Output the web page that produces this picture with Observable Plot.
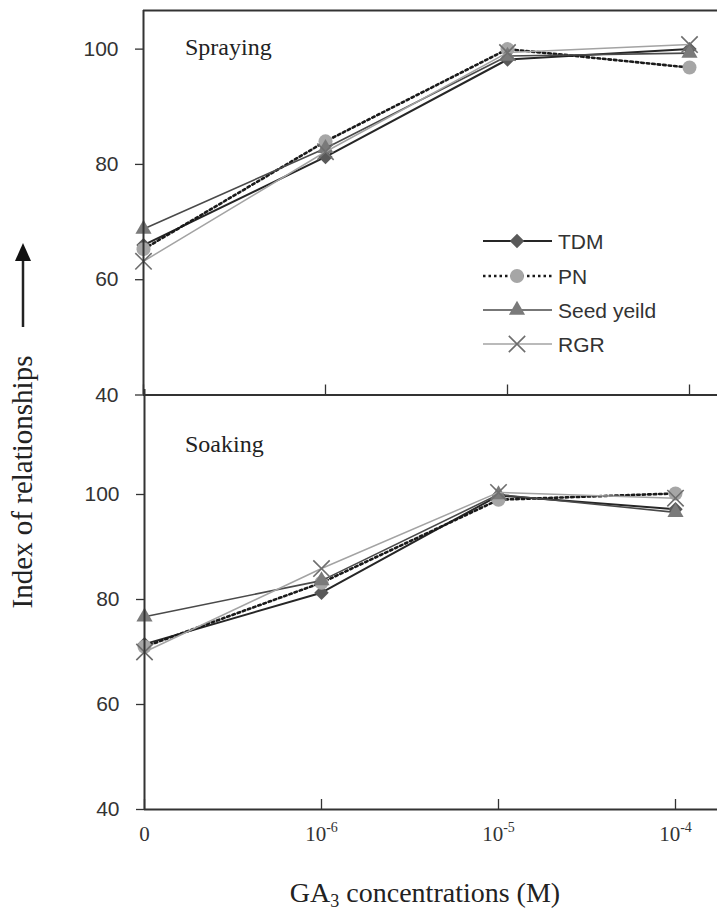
<!DOCTYPE html>
<html><head><meta charset="utf-8">
<script src="https://cdn.jsdelivr.net/npm/d3@7"></script>
<script src="https://cdn.jsdelivr.net/npm/@observablehq/plot@0.6"></script>
<style>
body{margin:0;background:#fff;}
#wrap{position:relative;width:717px;height:910px;overflow:hidden;background:#fff;}
#wrap > svg{position:absolute;left:0;}
</style></head><body><div id="wrap"></div>
<script>
// ---- data ----
const concentrations = ["0", "10^-6", "10^-5", "10^-4"];
const seriesNames = ["TDM", "PN", "Seed yeild", "RGR"];
const panelNames = ["Spraying", "Soaking"];
const yTicks = [40, 60, 80, 100];

const sprayTDM  = [66.0, 81.3, 98.2, 100.0];
const sprayPN   = [65.3, 84.0, 100.0, 96.8];
const spraySeed = [68.8, 82.8, 98.8, 99.3];
const sprayRGR  = [63.2, 82.2, 99.4, 100.8];

const soakTDM  = [71.5, 81.3, 99.8, 97.2];
const soakPN   = [71.0, 83.2, 99.0, 100.2];
const soakSeed = [76.7, 83.6, 100.0, 96.6];
const soakRGR  = [70.0, 85.9, 100.4, 99.3];

// ---- styles ----
const styles = {
  "TDM":        {stroke: "#262626", width: 2,   dash: null,    symbol: "diamond2", r: 6.5, fill: "#595959", mstroke: "none"},
  "PN":         {stroke: "#1a1a1a", width: 2.6, dash: "2.5,3", symbol: "circle",   r: 7,   fill: "#a6a6a6", mstroke: "none"},
  "Seed yeild": {stroke: "#4a4a4a", width: 1.6, dash: null,    symbol: "triangle", r: 6,   fill: "#7a7a7a", mstroke: "none"},
  "RGR":        {stroke: "#a3a3a3", width: 1.5, dash: null,    symbol: "times",    r: 7.5, fill: "none",    mstroke: "#6e6e6e"}
};

function table(arrs) {
  const rows = [];
  seriesNames.forEach((s, k) => arrs[k].forEach((v, i) => rows.push({series: s, i, value: v})));
  return rows;
}
const sprayRows = table([sprayTDM, sprayPN, spraySeed, sprayRGR]);
const soakRows  = table([soakTDM, soakPN, soakSeed, soakRGR]);
const tickRows = concentrations.map((label, i) => ({i, label}));

const axisColor = "#333";
const serif = "'Liberation Serif', 'Times New Roman', serif";
const sans = "'Liberation Sans', Arial, sans-serif";

function seriesMarks(rows) {
  const m = [];
  for (const s of seriesNames) {
    const st = styles[s];
    const d = rows.filter(r => r.series === s);
    m.push(Plot.line(d, {x: "i", y: "value", stroke: st.stroke, strokeWidth: st.width, strokeDasharray: st.dash}));
    m.push(Plot.dot(d, {x: "i", y: "value", symbol: () => st.symbol, r: st.r, fill: st.fill, stroke: st.mstroke, strokeWidth: 1.6}));
  }
  return m;
}

function makePanel(rows, o) {
  return Plot.plot({
    width: 717, height: o.height,
    marginLeft: o.left, marginRight: 0, marginTop: o.top, marginBottom: o.bottom,
    x: {domain: [0, (717 - o.left) / o.step]},
    y: {domain: o.yDomain},
    symbol: {domain: ["diamond2", "circle", "triangle", "times"], range: ["diamond2", "circle", "triangle", "times"]},
    style: {background: "transparent", overflow: "visible", fontFamily: sans, fontSize: "21px", color: "#333"},
    marks: [
      ...(o.topLine ? [Plot.ruleY([o.yDomain[1]], {stroke: axisColor, strokeWidth: 2})] : []),
      ...seriesMarks(rows),
      Plot.ruleX([0], {stroke: axisColor, strokeWidth: 2}),
      Plot.ruleY([o.yDomain[0]], {stroke: axisColor, strokeWidth: 2}),
      Plot.axisY({ticks: yTicks, tickSize: 8, tickPadding: 17, label: null, stroke: axisColor, strokeWidth: 1.3, fill: "#333"}),
      Plot.axisX({ticks: [0, 1, 2, 3], tickSize: -10, tickFormat: () => "", label: null, stroke: axisColor, strokeWidth: 1.3}),
      ...(o.xLabels ? [Plot.text(tickRows, {x: "i", text: "label", frameAnchor: "bottom", lineAnchor: "bottom", dy: 31,
          fontFamily: serif, fontSize: 21, fill: "#333"})] : [])
    ]
  });
}

const wrap = document.getElementById("wrap");

const topPanel = makePanel(sprayRows, {height: 400, left: 143, step: 182, top: 10, bottom: 5.5, yDomain: [40, 106.7], topLine: true, xLabels: false});
topPanel.style.top = "0px";
wrap.appendChild(topPanel);

const bottomPanel = makePanel(soakRows, {height: 470, left: 144, step: 177, top: 9, bottom: 41, yDomain: [40, 120], topLine: false, xLabels: true});
bottomPanel.style.top = "380px";
wrap.appendChild(bottomPanel);

// superscripts in x tick labels (any text whose content is "base^exp")
bottomPanel.querySelectorAll("text").forEach(el => {
  const s = el.textContent;
  if (!s.includes("^")) return;
  const [base, exp] = s.split("^");
  const t = d3.select(el);
  t.text(null);
  t.append("tspan").text(base);
  t.append("tspan").attr("dy", -9).style("font-size", "14px").text(exp);
});

// ---- overlay: panel names, legend, axis titles ----
const ov = d3.select(wrap).append("svg")
  .attr("width", 717).attr("height", 910)
  .style("top", "0px").style("pointer-events", "none");

ov.append("text").attr("x", 185).attr("y", 55).attr("font-family", serif).attr("font-size", 24).attr("fill", "#222").text(panelNames[0]);
ov.append("text").attr("x", 185).attr("y", 452).attr("font-family", serif).attr("font-size", 24).attr("fill", "#222").text(panelNames[1]);

// legend
const legendY = [241, 276, 310, 344];
const symMap = {diamond2: d3.symbolDiamond2, circle: d3.symbolCircle, triangle: d3.symbolTriangle, times: d3.symbolTimes};
seriesNames.forEach((s, k) => {
  const st = styles[s];
  const y = legendY[k];
  ov.append("line").attr("x1", 483).attr("x2", 552).attr("y1", y).attr("y2", y)
    .attr("stroke", st.stroke).attr("stroke-width", st.width).attr("stroke-dasharray", st.dash);
  ov.append("path").attr("transform", `translate(517,${y})`)
    .attr("d", d3.symbol(symMap[st.symbol], Math.PI * st.r * st.r)())
    .attr("fill", st.fill).attr("stroke", st.mstroke).attr("stroke-width", 1.6);
  ov.append("text").attr("x", 558).attr("y", y).attr("dy", "0.36em")
    .attr("font-family", sans).attr("font-size", 21).attr("fill", "#333").text(s);
});

// y title + arrow
ov.append("text").attr("transform", "translate(32,482) rotate(-90)").attr("text-anchor", "middle")
  .attr("font-family", serif).attr("font-size", 29).attr("fill", "#222").text("Index of relationships");
ov.append("line").attr("x1", 23).attr("x2", 23).attr("y1", 327).attr("y2", 258).attr("stroke", "#222").attr("stroke-width", 2.5);
ov.append("path").attr("d", "M15,261L31,261L23,243Z").attr("fill", "#111");

// x title
const xt = ov.append("text").attr("x", 425).attr("y", 902).attr("text-anchor", "middle")
  .attr("font-family", serif).attr("font-size", 28).attr("fill", "#222");
xt.append("tspan").text("GA");
xt.append("tspan").attr("font-size", 18).attr("dy", 5).text("3");
xt.append("tspan").attr("dy", -5).text(" concentrations (M)");
</script>
</body></html>
